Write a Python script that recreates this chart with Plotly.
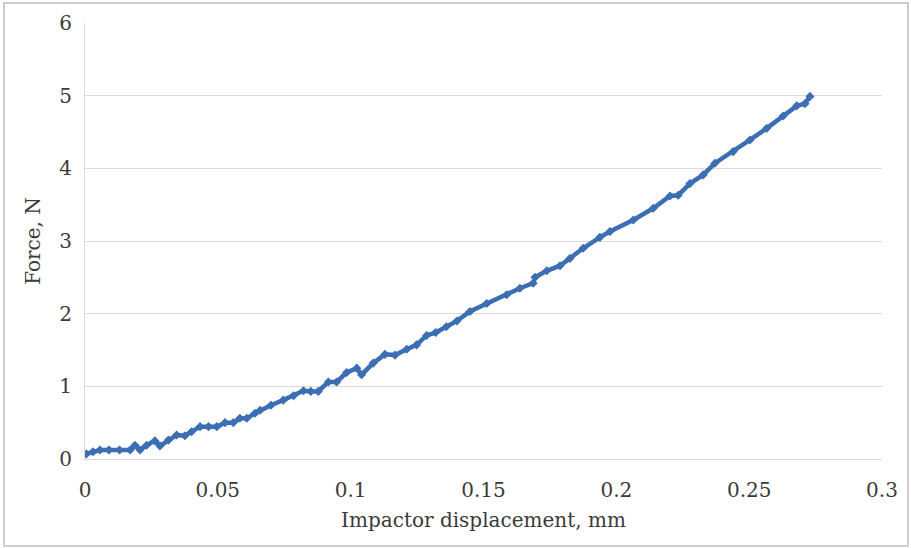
import plotly.graph_objects as go

# Data
displacement_mm = [0.0005, 0.003, 0.0056, 0.009, 0.013, 0.017, 0.0188, 0.0207, 0.0232, 0.0263,
                   0.0282, 0.0314, 0.0345, 0.0376, 0.0401, 0.0433, 0.0465, 0.0496, 0.0527, 0.0558,
                   0.0583, 0.0609, 0.064, 0.0659, 0.070, 0.0746, 0.0785, 0.0822, 0.085, 0.0878,
                   0.0916, 0.0947, 0.0985, 0.1023, 0.1041, 0.1085, 0.1129, 0.1167, 0.1211, 0.1248,
                   0.1286, 0.132, 0.136, 0.140, 0.1449, 0.1512, 0.1587, 0.1637, 0.1687, None,
                   0.1694, 0.1738, 0.1788, 0.1825, 0.1875, 0.1938, 0.1976, 0.2064, 0.2139, 0.2202,
                   0.2233, 0.2277, 0.2327, 0.2371, 0.244, 0.2503, 0.2566, 0.2628, 0.2679, 0.271,
                   0.2729]
force_n = [0.07, 0.10, 0.124, 0.124, 0.124, 0.124, 0.19, 0.124, 0.19, 0.25,
           0.18, 0.26, 0.33, 0.32, 0.376, 0.445, 0.445, 0.445, 0.50, 0.50,
           0.56, 0.56, 0.63, 0.67, 0.74, 0.81, 0.87, 0.94, 0.93, 0.93,
           1.06, 1.06, 1.19, 1.25, 1.16, 1.32, 1.44, 1.43, 1.51, 1.57,
           1.70, 1.74, 1.82, 1.90, 2.03, 2.14, 2.26, 2.35, 2.42, None,
           2.50, 2.59, 2.66, 2.76, 2.90, 3.05, 3.13, 3.29, 3.45, 3.62,
           3.63, 3.79, 3.91, 4.07, 4.23, 4.39, 4.55, 4.72, 4.86, 4.89,
           4.99]

x_ticks = [0, 0.05, 0.1, 0.15, 0.2, 0.25, 0.3]
x_tick_labels = ["0", "0.05", "0.1", "0.15", "0.2", "0.25", "0.3"]
y_ticks = [0, 1, 2, 3, 4, 5, 6]

blue = "#3C6EB4"
fnt = "DejaVu Serif, Liberation Serif, serif"
txt = "#3A3A3A"

fig = go.Figure()
fig.add_trace(go.Scatter(
    x=displacement_mm, y=force_n, mode="lines+markers",
    line=dict(color=blue, width=4.5), connectgaps=False,
    marker=dict(symbol="diamond", size=7, color=blue),
    showlegend=False, hoverinfo="x+y",
))

W, H = 911, 548
L, R, T, B = 85, 29, 23, 89
pw, ph = W - L - R, H - T - B

fig.update_layout(
    width=W, height=H,
    margin=dict(l=L, r=R, t=T, b=B),
    paper_bgcolor="white", plot_bgcolor="white",
    font=dict(family=fnt, size=20, color=txt),
    xaxis=dict(
        range=[0, 0.3], tickvals=x_ticks, ticktext=x_tick_labels,
        showgrid=False, zeroline=False, showline=True, linecolor="#D9D9D9", linewidth=1,
        ticks="", ticklabelstandoff=13,
        title=dict(text="Impactor displacement, mm", font=dict(size=20, color=txt), standoff=11),
    ),
    yaxis=dict(
        range=[0, 6], tickvals=y_ticks,
        showgrid=True, gridcolor="#D9D9D9", gridwidth=1, zeroline=False,
        showline=True, linecolor="#D9D9D9", linewidth=1,
        ticks="", ticklabelstandoff=8,
        title=dict(text="Force, N", font=dict(size=20, color=txt), standoff=13),
    ),
)

# Outer border of the chart image
x0 = (4 - L) / pw
x1 = (908 - L) / pw
y1 = (H - B - 3) / ph
y0 = (H - B - 546) / ph
fig.add_shape(type="rect", xref="paper", yref="paper", x0=x0, x1=x1, y0=y0, y1=y1,
              line=dict(color="#BFBFBF", width=1.5), fillcolor="rgba(0,0,0,0)", layer="below")

fig.write_html("out.html")
